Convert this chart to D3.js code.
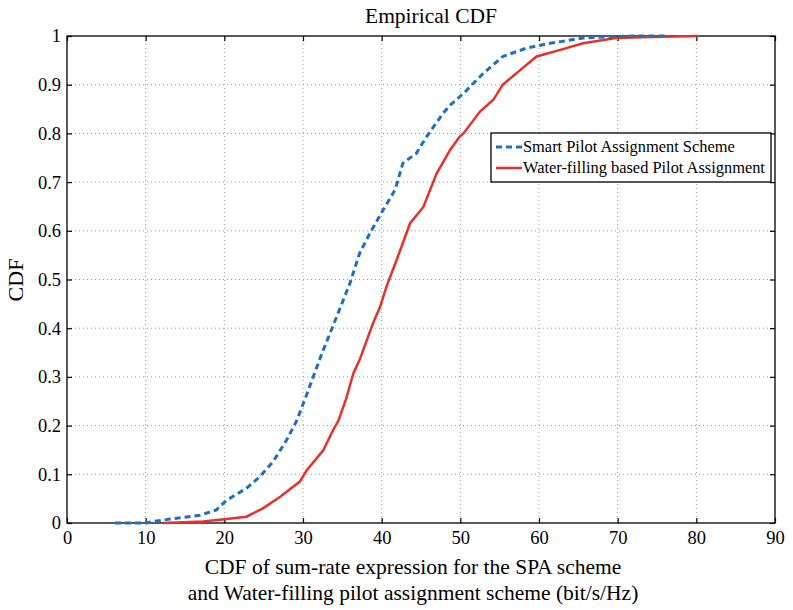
<!DOCTYPE html>
<html>
<head>
<meta charset="utf-8">
<script src="https://cdn.jsdelivr.net/npm/d3@7"></script>
<style>
  body { margin: 0; background: #fff; }
  svg text { font-family: "Liberation Serif", "DejaVu Serif", serif; fill: #000; }
</style>
</head>
<body>
<svg id="chart" width="793" height="610"></svg>
<script>
// CDF levels for each scheme (x = sum-rate, y = CDF)
const spaX = [6.1, 10, 11, 13.1, 16.9, 19, 20.3, 22.8, 24.5, 26.2, 27.9, 29.2, 30.45, 32.4, 33.6, 35.96, 37.2, 38.5, 40.2, 41.7, 42.7, 44.4, 45.7, 47.8, 48.7, 50.4, 52.9, 55.4, 58.4, 61.4, 65.6, 69.8, 72, 76];
const spaY = [0, 0, 0.003, 0.008, 0.016, 0.027, 0.047, 0.071, 0.095, 0.126, 0.17, 0.21, 0.263, 0.348, 0.396, 0.492, 0.554, 0.595, 0.643, 0.684, 0.739, 0.759, 0.793, 0.841, 0.858, 0.882, 0.923, 0.958, 0.975, 0.985, 0.996, 0.999, 1, 1];
const wfX = [12.2, 17.3, 20.3, 22.8, 24.9, 27.1, 29.6, 30.5, 32.6, 33.8, 34.5, 35.5, 36.4, 37.2, 38.9, 39.8, 40.6, 41.9, 43.6, 45.3, 47.0, 48.7, 49.9, 50.4, 52.5, 54.2, 55.4, 57.6, 59.7, 62.6, 65.6, 69.8, 74.1, 80.2];
const wfY = [0, 0.003, 0.008, 0.013, 0.030, 0.054, 0.085, 0.109, 0.15, 0.19, 0.21, 0.256, 0.307, 0.335, 0.41, 0.444, 0.485, 0.54, 0.615, 0.649, 0.718, 0.766, 0.793, 0.8, 0.845, 0.869, 0.9, 0.93, 0.958, 0.971, 0.985, 0.996, 0.998, 1];
const xTicks = [0, 10, 20, 30, 40, 50, 60, 70, 80, 90];
const yTicks = [0, 0.1, 0.2, 0.3, 0.4, 0.5, 0.6, 0.7, 0.8, 0.9, 1];
const seriesNames = ["Smart Pilot Assignment Scheme", "Water-filling based Pilot Assignment"];
const seriesColors = ["#1f6fbf", "#e8302a"];

const svg = d3.select("#chart");
const pLeft = 67, pRight = 775, pTop = 36, pBottom = 523;
const x = d3.scaleLinear().domain([0, 90]).range([pLeft, pRight]);
const y = d3.scaleLinear().domain([0, 1]).range([pBottom, pTop]);

// grid
svg.append("g").selectAll("line").data(xTicks.slice(1, -1)).join("line")
  .attr("x1", d => x(d)).attr("x2", d => x(d)).attr("y1", pTop).attr("y2", pBottom)
  .attr("stroke", "#999").attr("stroke-width", 1).attr("stroke-dasharray", "1,3");
svg.append("g").selectAll("line").data(yTicks.slice(1, -1)).join("line")
  .attr("y1", d => y(d)).attr("y2", d => y(d)).attr("x1", pLeft).attr("x2", pRight)
  .attr("stroke", "#999").attr("stroke-width", 1).attr("stroke-dasharray", "1,3");

// axes with inward ticks (box style)
const fmtY = d => d === 0 || d === 1 ? String(d) : d3.format(".1f")(d);
const xb = svg.append("g").attr("transform", `translate(0,${pBottom})`)
  .call(d3.axisBottom(x).tickValues(xTicks).tickSize(-5).tickPadding(8));
const xt = svg.append("g").attr("transform", `translate(0,${pTop})`)
  .call(d3.axisTop(x).tickValues(xTicks).tickSize(-5).tickFormat(""));
const yl = svg.append("g").attr("transform", `translate(${pLeft},0)`)
  .call(d3.axisLeft(y).tickValues(yTicks).tickSize(-5).tickPadding(6).tickFormat(fmtY));
const yr = svg.append("g").attr("transform", `translate(${pRight},0)`)
  .call(d3.axisRight(y).tickValues(yTicks).tickSize(-5).tickFormat(""));
[xb, xt, yl, yr].forEach(g => {
  g.select(".domain").remove();
  g.selectAll("line").attr("stroke", "#000").attr("stroke-width", 1.2);
  g.selectAll("text").style("font-size", "18.5px").style("font-family", "Liberation Serif");
});
svg.append("rect").attr("x", pLeft).attr("y", pTop).attr("width", pRight - pLeft).attr("height", pBottom - pTop)
  .attr("fill", "none").attr("stroke", "#000").attr("stroke-width", 1.3);

// curves
const line = d3.line().x(d => x(d[0])).y(d => y(d[1]));
svg.append("path").datum(wfX.map((v, i) => [v, wfY[i]]))
  .attr("d", line).attr("fill", "none").attr("stroke", seriesColors[1]).attr("stroke-width", 2.5);
svg.append("path").datum(spaX.map((v, i) => [v, spaY[i]]))
  .attr("d", line).attr("fill", "none").attr("stroke", seriesColors[0]).attr("stroke-width", 3)
  .attr("stroke-dasharray", "6,4");

// legend
const lg = svg.append("g").attr("transform", "translate(491,133)");
lg.append("rect").attr("width", 280).attr("height", 49).attr("fill", "#fff")
  .attr("stroke", "#000").attr("stroke-width", 1.3);
seriesNames.forEach((name, i) => {
  const yy = 14 + i * 21;
  lg.append("line").attr("x1", 5).attr("x2", 31).attr("y1", yy).attr("y2", yy)
    .attr("stroke", seriesColors[i]).attr("stroke-width", i === 0 ? 3 : 2.5)
    .attr("stroke-dasharray", i === 0 ? "6,4" : null);
  lg.append("text").attr("x", 32).attr("y", yy + 5).style("font-size", "16.4px").text(name);
});

// titles
svg.append("text").attr("x", 431).attr("y", 23).attr("text-anchor", "middle")
  .style("font-size", "21.5px").text("Empirical CDF");
svg.append("text").attr("transform", "translate(23,280) rotate(-90)").attr("text-anchor", "middle")
  .style("font-size", "22px").text("CDF");
svg.append("text").attr("x", 413).attr("y", 574).attr("text-anchor", "middle")
  .style("font-size", "21.5px").text("CDF of sum-rate expression for the SPA scheme");
svg.append("text").attr("x", 413).attr("y", 600).attr("text-anchor", "middle")
  .style("font-size", "21.5px").text("and Water-filling pilot assignment scheme (bit/s/Hz)");
</script>
</body>
</html>
